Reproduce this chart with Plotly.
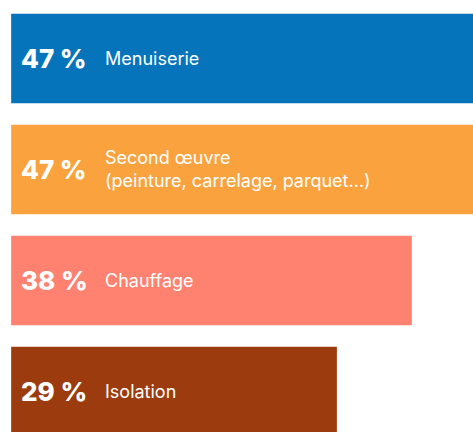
import plotly.graph_objects as go

categories = ["Menuiserie", "Second œuvre<br>(peinture, carrelage, parquet…)", "Chauffage", "Isolation"]
values = [47, 47, 38, 29]
value_labels = ["47 %", "47 %", "38 %", "29 %"]
colors = ["#0574BB", "#FAA23E", "#FF8271", "#9C3C0E"]

BASE = -10.1  # visual offset where bars start
ypos = list(range(len(categories)))

W, H = 473, 432

fig = go.Figure()
fig.add_trace(go.Bar(
    y=ypos,
    x=[v - BASE for v in values],
    base=BASE,
    orientation="h",
    marker=dict(color=colors, line=dict(width=0)),
    width=0.806,
    hoverinfo="skip",
))

for i, (lab, vl) in enumerate(zip(categories, value_labels)):
    fig.add_annotation(
        x=19 / W, xref="paper", y=i, yref="y",
        text=vl, showarrow=False, xanchor="left", yanchor="middle",
        font=dict(family="Inter", size=26, color="white", weight=800),
    )
    fig.add_annotation(
        x=103 / W, xref="paper", y=i, yref="y",
        text=lab, showarrow=False, xanchor="left", yanchor="middle", align="left",
        font=dict(family="Inter", size=18, color="white"),
    )

fig.update_layout(
    width=W, height=H,
    margin=dict(l=0, r=0, t=0, b=0),
    paper_bgcolor="white", plot_bgcolor="white",
    showlegend=False,
    xaxis=dict(range=[-11.44, 45.34], visible=False, fixedrange=True),
    yaxis=dict(range=[3.365, -0.527], visible=False, fixedrange=True),
)

fig.write_html(
    "out.html",
    config={"displayModeBar": False},
    post_script="document.body.style.margin='0';document.body.style.overflow='hidden';",
)
